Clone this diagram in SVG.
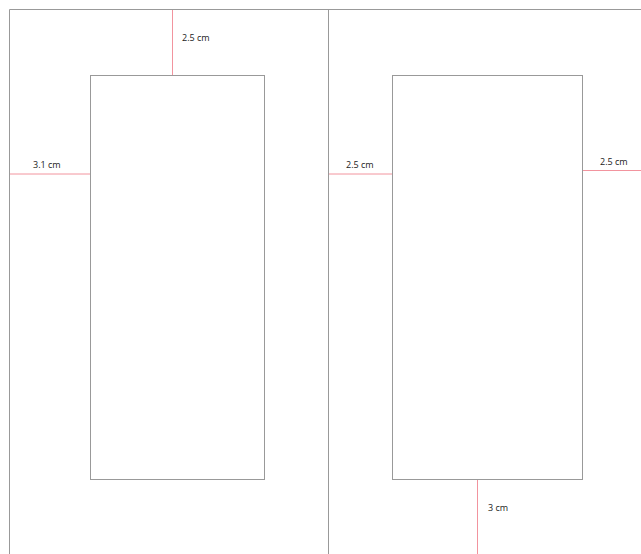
<svg xmlns="http://www.w3.org/2000/svg" width="641" height="554" viewBox="0 0 641 554">
<style>
.page{fill:none;stroke:#999;stroke-width:1}
.box{fill:#fff;stroke:#999;stroke-width:1}
.dim{stroke:#f2949e;stroke-width:1;fill:none}
text{font-family:"Open Sans","DejaVu Sans",sans-serif;font-size:9px;fill:#222}
</style>
<rect width="641" height="554" fill="#fff"/>
<g id="pages">
<path class="page" d="M9.5,554 V9.5 H641 M328.5,9.5 V554"/>
</g>
<g id="left-box"><rect class="box" x="90.5" y="75.5" width="174" height="404"/></g>
<g id="right-box"><rect class="box" x="392.5" y="75.5" width="190" height="404"/></g>
<g id="connectors">
<line class="dim" x1="172.5" y1="10" x2="172.5" y2="75"/>
<line class="dim" x1="10" y1="174" x2="90" y2="174"/>
<line class="dim" x1="329" y1="174" x2="392" y2="174"/>
<line class="dim" x1="583" y1="170.5" x2="641" y2="170.5"/>
<line class="dim" x1="477.5" y1="480" x2="477.5" y2="554"/>
</g>
<g id="labels">
<text x="182" y="40.5">2.5 cm</text>
<text x="33" y="167.5">3.1 cm</text>
<text x="346" y="167.5">2.5 cm</text>
<text x="600" y="164.5">2.5 cm</text>
<text x="488" y="510.5">3 cm</text>
</g>
</svg>
